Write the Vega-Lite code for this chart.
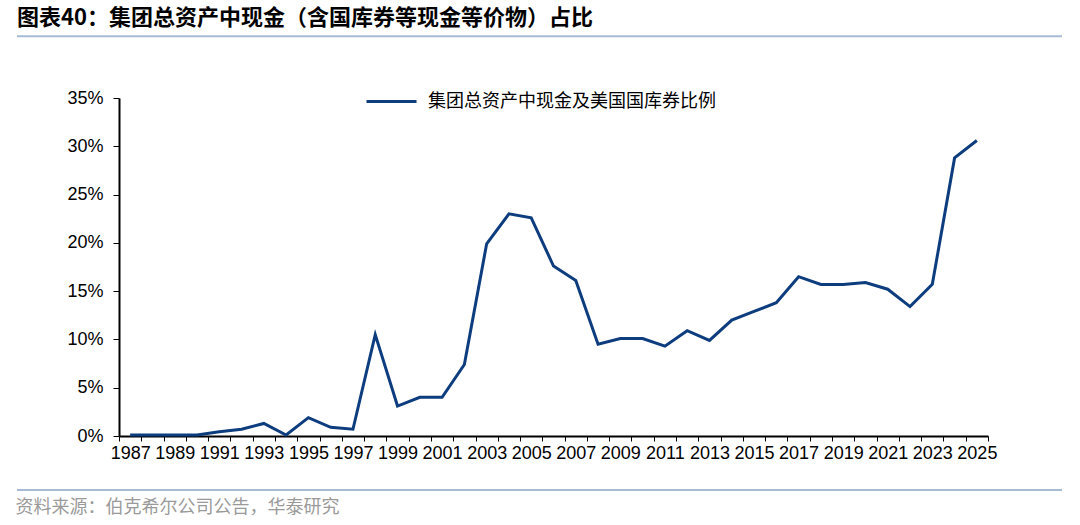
{
  "$schema": "https://vega.github.io/schema/vega-lite/v6.json",
  "width": 869,
  "height": 338,
  "autosize": {"type": "none"},
  "padding": {"left": 119, "top": 98, "right": 92, "bottom": 89},
  "background": "white",
  "title": {
    "text": "图表40：集团总资产中现金（含国库券等现金等价物）占比",
    "anchor": "start",
    "frame": "group",
    "dx": -102,
    "offset": 5,
    "font": "Noto Sans CJK SC",
    "fontSize": 22,
    "fontWeight": "bold",
    "color": "black"
  },
  "data": {
    "values": [
      {"year": 1987, "pct": 0.1},
      {"year": 1988, "pct": 0.1},
      {"year": 1989, "pct": 0.1},
      {"year": 1990, "pct": 0.1},
      {"year": 1991, "pct": 0.45},
      {"year": 1992, "pct": 0.7},
      {"year": 1993, "pct": 1.3},
      {"year": 1994, "pct": 0.1},
      {"year": 1995, "pct": 1.9},
      {"year": 1996, "pct": 0.9},
      {"year": 1997, "pct": 0.7},
      {"year": 1998, "pct": 10.5},
      {"year": 1999, "pct": 3.1},
      {"year": 2000, "pct": 4.0},
      {"year": 2001, "pct": 4.0},
      {"year": 2002, "pct": 7.4},
      {"year": 2003, "pct": 19.9},
      {"year": 2004, "pct": 23.0},
      {"year": 2005, "pct": 22.6},
      {"year": 2006, "pct": 17.6},
      {"year": 2007, "pct": 16.1},
      {"year": 2008, "pct": 9.5},
      {"year": 2009, "pct": 10.1},
      {"year": 2010, "pct": 10.1},
      {"year": 2011, "pct": 9.3},
      {"year": 2012, "pct": 10.9},
      {"year": 2013, "pct": 9.9},
      {"year": 2014, "pct": 12.0},
      {"year": 2015, "pct": 12.9},
      {"year": 2016, "pct": 13.8},
      {"year": 2017, "pct": 16.5},
      {"year": 2018, "pct": 15.7},
      {"year": 2019, "pct": 15.7},
      {"year": 2020, "pct": 15.9},
      {"year": 2021, "pct": 15.2},
      {"year": 2022, "pct": 13.4},
      {"year": 2023, "pct": 15.7},
      {"year": 2024, "pct": 28.8},
      {"year": 2025, "pct": 30.6}
    ]
  },
  "layer": [
    {
      "mark": {"type": "line", "strokeWidth": 3},
      "encoding": {
        "x": {
          "field": "year",
          "type": "ordinal",
          "bandPosition": 0.5,
          "scale": {"type": "band", "paddingInner": 0, "paddingOuter": 0},
          "axis": {
            "title": "资料来源：伯克希尔公司公告，华泰研究",
            "titleX": -104,
            "titleY": 71,
            "titleAlign": "left",
            "titleBaseline": "middle",
            "titleAnchor": null,
            "titleFont": "Noto Sans CJK SC",
            "titleFontSize": 18,
            "titleFontWeight": "normal",
            "titleColor": "#9a9a9a",
            "tickBand": "extent",
            "labelExpr": "datum.value % 2 == 1 ? datum.label : ''",
            "labelOverlap": false,
            "labelAngle": 0,
            "labelFont": "Liberation Sans",
            "labelFontSize": 18,
            "labelColor": "black",
            "labelPadding": 3,
            "tickSize": 5,
            "tickColor": "black",
            "domainColor": "black",
            "domainWidth": 2,
            "grid": false
          }
        },
        "y": {
          "field": "pct",
          "type": "quantitative",
          "scale": {"domain": [0, 35], "nice": false},
          "axis": {
            "title": null,
            "values": [0, 5, 10, 15, 20, 25, 30, 35],
            "labelExpr": "datum.value + '%'",
            "labelFont": "Liberation Sans",
            "labelFontSize": 18,
            "labelColor": "black",
            "labelPadding": 10,
            "tickSize": 6,
            "tickColor": "black",
            "domainColor": "black",
            "domainWidth": 2,
            "grid": false
          }
        },
        "color": {
          "datum": "集团总资产中现金及美国国库券比例",
          "scale": {"range": ["#0d3d7e"]},
          "legend": {
            "title": null,
            "orient": "none",
            "legendX": 246,
            "legendY": -23,
            "symbolType": "stroke",
            "symbolSize": 2500,
            "symbolStrokeWidth": 3,
            "labelOffset": 10,
            "labelLimit": 500,
            "labelFont": "Noto Sans CJK SC",
            "labelFontSize": 18,
            "labelColor": "black"
          }
        }
      }
    },
    {
      "data": {"values": [{}]},
      "mark": {"type": "rule", "color": "#a8bbd5", "strokeWidth": 2},
      "encoding": {
        "x": {"datum": 0, "type": "quantitative", "scale": {"domain": [0, 1], "range": [-102, 943]}, "axis": null},
        "x2": {"datum": 1},
        "y": {"datum": 41.4, "type": "quantitative"}
      }
    },
    {
      "data": {"values": [{}]},
      "mark": {"type": "rule", "color": "#a8bbd5", "strokeWidth": 2},
      "encoding": {
        "x": {"datum": 0, "type": "quantitative", "scale": {"domain": [0, 1], "range": [-102, 943]}, "axis": null},
        "x2": {"datum": 1},
        "y": {"datum": -5.6, "type": "quantitative"}
      }
    }
  ],
  "resolve": {"scale": {"x": "independent"}},
  "config": {"view": {"stroke": null}}
}
